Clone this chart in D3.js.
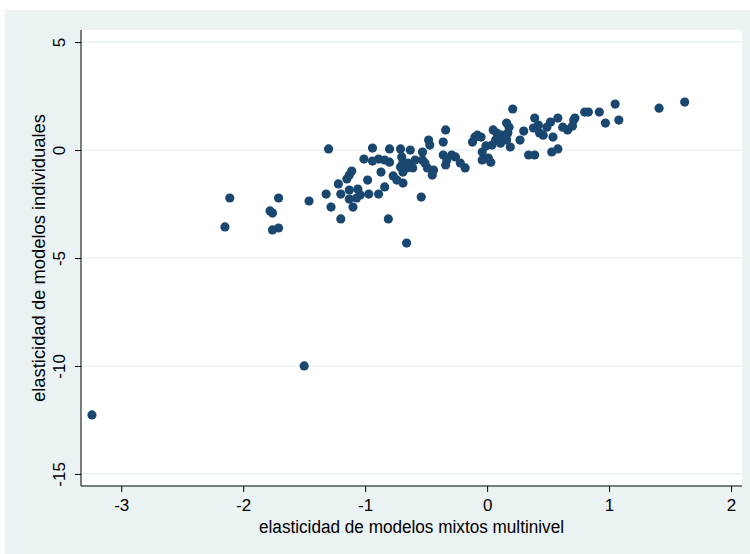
<!DOCTYPE html>
<html>
<head>
<meta charset="utf-8">
<script src="https://cdn.jsdelivr.net/npm/d3@7"></script>
<style>
  body { margin: 0; background: #fff; }
  svg { display: block; font-family: "Liberation Sans", Arial, sans-serif; }
</style>
</head>
<body>
<svg id="chart" width="750" height="554"></svg>
<script>
// elasticidad de modelos mixtos multinivel (x) vs. modelos individuales (y)
const mixedElasticity = [
  -3.24, -1.50, -2.15, -2.11, -1.78, -1.76, -1.76, -1.71, -1.71, -1.46,
  -1.30, -1.32, -1.28, -1.22, -1.20, -1.20, -1.15, -1.13, -1.11, -1.13,
  -1.13, -1.10, -1.06, -1.04, -1.07, -1.01, -0.94, -0.98, -0.97, -0.89,
  -0.84, -0.87, -0.81, -0.66, -0.80, -0.71, -0.63, -0.94, -0.89, -0.84,
  -0.80, -0.69, -0.65, -0.77, -0.74, -0.69, -0.66, -0.71, -0.69, -0.70,
  -0.59, -0.54, -0.53, -0.48, -0.47, -0.53, -0.51, -0.49, -0.45, -0.44,
  -0.34, -0.36, -0.36, -0.33, -0.29, -0.26, -0.22, -0.18, -0.34, -0.12,
  -0.08, -0.04, -0.04, 0.01, 0.05, 0.08, 0.11, 0.04, 0.16, -0.01,
  0.03, 0.07, 0.21, 0.18, 0.17, 0.16, 0.19, 0.12, 0.30, 0.27,
  0.34, 0.39, 0.39, 0.42, 0.43, 0.46, 0.38, 0.52, 0.54, 0.58,
  0.53, 0.58, 0.62, 0.66, 0.70, 0.72, 0.71, 0.80, 0.83, 0.92,
  0.97, 1.05, 1.08, 1.41, 1.62, 0.49, -0.05, -0.10, -0.61
];
const individualElasticity = [
  -12.27, -10.00, -3.56, -2.22, -2.82, -2.92, -3.70, -3.61, -2.22, -2.36,
  0.05, -2.04, -2.64, -1.57, -2.04, -3.19, -1.34, -1.16, -0.97, -1.85,
  -2.27, -2.64, -1.81, -2.08, -2.22, -0.42, 0.09, -1.39, -2.04, -2.04,
  -1.71, -1.02, -3.19, -4.31, 0.05, 0.05, 0.00, -0.51, -0.42, -0.46,
  -0.56, -0.56, -0.60, -1.20, -1.39, -1.02, -0.83, -0.79, -1.53, -0.32,
  -0.46, -2.18, -0.09, 0.46, 0.23, -0.46, -0.60, -0.83, -1.16, -0.93,
  0.93, 0.37, -0.23, -0.46, -0.23, -0.32, -0.60, -0.83, -0.69, 0.37,
  0.69, -0.09, -0.46, -0.37, 0.93, 0.79, 0.32, 0.23, 1.25, 0.19,
  -0.56, 0.46, 1.90, 1.06, 0.79, 0.46, 0.14, 0.69, 0.88, 0.46,
  -0.23, -0.23, 1.48, 1.16, 0.79, 0.69, 1.02, 1.30, 0.60, 1.48,
  -0.09, 0.05, 1.06, 0.93, 1.11, 1.48, 1.39, 1.76, 1.76, 1.76,
  1.25, 2.13, 1.39, 1.94, 2.22, 1.06, 0.60, 0.60, -0.83
];
const xTicks = [-3, -2, -1, 0, 1, 2];
const yTicks = [-15, -10, -5, 0, 5];
const xTitle = "elasticidad de modelos mixtos multinivel";
const yTitle = "elasticidad de modelos individuales";

const points = mixedElasticity.map((x, i) => ({ x, y: individualElasticity[i] }));

const svg = d3.select("#chart");
const plot = { left: 81, right: 742, top: 30, bottom: 486 };

// outer graph region (Stata s2color)
svg.append("rect")
  .attr("x", 5).attr("y", 10)
  .attr("width", 745).attr("height", 544)
  .attr("fill", "#eaf2f3");

svg.append("rect")
  .attr("x", plot.left).attr("y", plot.top)
  .attr("width", plot.right - plot.left).attr("height", plot.bottom - plot.top)
  .attr("fill", "#fff");

const x = d3.scaleLinear().domain([-3.33, 2.09]).range([plot.left, plot.right]);
const y = d3.scaleLinear().domain([-15.56, 5.56]).range([plot.bottom, plot.top]);

// gridlines
svg.append("g").selectAll("line")
  .data(yTicks).join("line")
  .attr("x1", plot.left).attr("x2", plot.right)
  .attr("y1", d => y(d)).attr("y2", d => y(d))
  .attr("stroke", "#eaf2f3").attr("stroke-width", 1.6);

// points
svg.append("g").selectAll("circle")
  .data(points).join("circle")
  .attr("cx", d => x(d.x)).attr("cy", d => y(d.y))
  .attr("r", 4.6)
  .attr("fill", "#1a476f");

// y axis
const yAxis = svg.append("g")
  .attr("transform", `translate(${plot.left},0)`)
  .call(d3.axisLeft(y).tickValues(yTicks).tickSize(6).tickSizeOuter(0).tickFormat(d3.format("d")));
yAxis.select(".domain").attr("d", `M0,${plot.top}V${plot.bottom}`).attr("stroke", "#000");
yAxis.selectAll(".tick line").attr("stroke", "#000");
yAxis.selectAll(".tick text")
  .attr("x", null).attr("dy", null)
  .attr("transform", "translate(-16,0) rotate(-90)")
  .attr("text-anchor", "middle")
  .attr("font-size", 17).attr("fill", "#000")
  .text(d => d < 0 ? "-" + Math.abs(d) : d);

// x axis
const xAxis = svg.append("g")
  .attr("transform", `translate(0,${plot.bottom})`)
  .call(d3.axisBottom(x).tickValues(xTicks).tickSize(6).tickSizeOuter(0));
xAxis.select(".domain").attr("d", `M${plot.left},0H${plot.right}`).attr("stroke", "#000");
xAxis.selectAll(".tick line").attr("stroke", "#000");
xAxis.selectAll(".tick text")
  .attr("y", 25).attr("dy", null)
  .attr("font-size", 17).attr("fill", "#000")
  .text(d => d < 0 ? "-" + Math.abs(d) : d);

// titles (Stata text is narrow, so squeeze the glyphs)
svg.append("text")
  .attr("x", (plot.left + plot.right) / 2).attr("y", 533)
  .attr("text-anchor", "middle")
  .attr("font-size", 18).attr("fill", "#000")
  .attr("textLength", 305).attr("lengthAdjust", "spacingAndGlyphs")
  .text(xTitle);

svg.append("text")
  .attr("transform", `translate(45,${(plot.top + plot.bottom) / 2}) rotate(-90)`)
  .attr("text-anchor", "middle")
  .attr("font-size", 18).attr("fill", "#000")
  .attr("textLength", 288).attr("lengthAdjust", "spacingAndGlyphs")
  .text(yTitle);
</script>
</body>
</html>
